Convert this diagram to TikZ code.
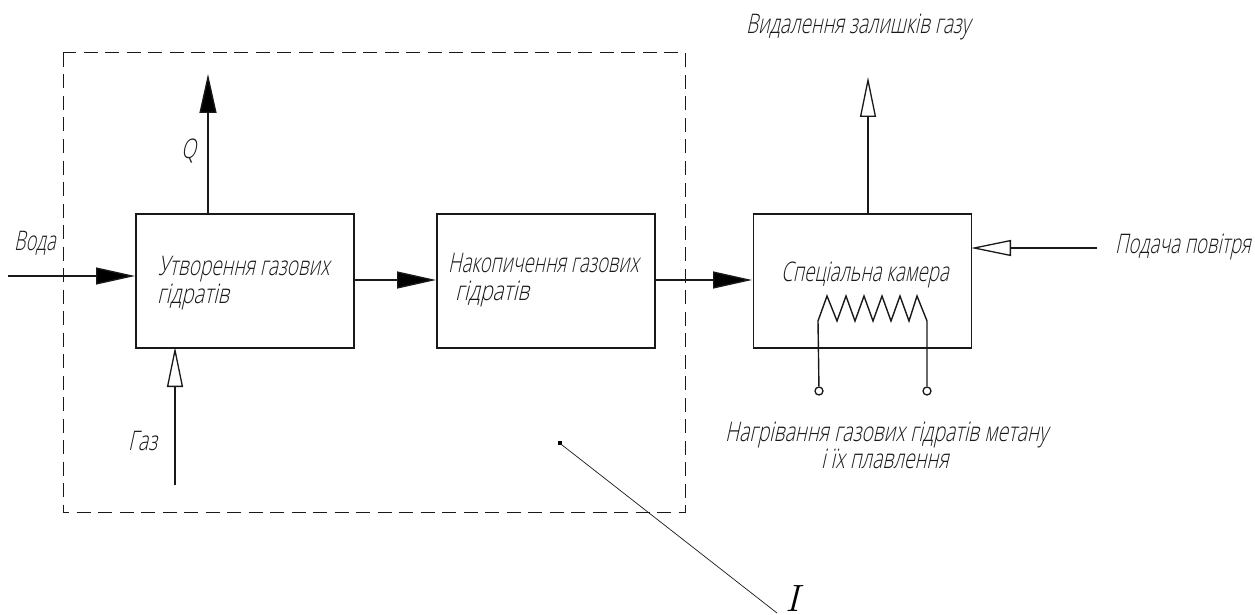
\documentclass[tikz,border=0pt]{standalone}
\usepackage{graphicx}
\usepackage{fontspec}
\newfontfamily\drawfont[FakeStretch=0.72,FakeSlant=0.22]{Open Sans Light}
\usetikzlibrary{arrows.meta}
\definecolor{ink}{RGB}{25,25,25}
\newcommand{\sq}[2]{\scalebox{#1}[1]{#2}}
\tikzset{
  x=1pt,y=-1pt,
  procbox/.style={draw=ink,line width=1.5pt,minimum width=218pt,minimum height=134pt,inner sep=0pt,anchor=north west},
  flow/.style={draw=ink,line width=1.4pt},
  solidflow/.style={flow,-{Triangle[length=39pt,width=17pt,fill=black]}},
  hollowflow/.style={flow,-{Triangle[open,length=40pt,width=16pt,line width=1.3pt]}},
  lab/.style={font=\drawfont\fontsize{27}{30}\selectfont,text=ink,inner sep=0pt,align=left,anchor=base west},
  termpin/.style={circle,draw=ink,line width=1.3pt,minimum size=8pt,inner sep=0pt}
}
\begin{document}
\begin{tikzpicture}
\useasboundingbox (0,0) rectangle (1255,615);
\draw[ink,line width=1pt,dash pattern=on 14pt off 7.5pt] (63,53) rectangle (685,512.5);
\node[procbox] (b1) at (135,213) {};
\node[procbox] (b2) at (436,213) {};
\node[procbox] (b3) at (752.5,213) {};
\coordinate (vs) at (8,276);
\coordinate (ve) at (135,276);
\draw[solidflow] (vs) -- (ve);
\coordinate (a1) at (353,280);
\coordinate (a2) at (436,280);
\draw[solidflow] (a1) -- (a2);
\coordinate (c1) at (654,280);
\coordinate (c2) at (752,280);
\draw[solidflow] (c1) -- (c2);
\coordinate (q1) at (208,213);
\coordinate (q2) at (208,74);
\draw[solidflow] (q1) -- (q2);
\coordinate (g1) at (175,485);
\coordinate (g2) at (175,347);
\draw[hollowflow] (g1) -- (g2);
\coordinate (o1) at (868,213);
\coordinate (o2) at (868,77);
\draw[hollowflow] (o1) -- (o2);
\coordinate (p1) at (1097,248);
\coordinate (p2) at (971,248);
\draw[hollowflow] (p1) -- (p2);
\node[termpin] (t1) at (819,391) {};
\node[termpin] (t2) at (927,391) {};
\draw[ink,line width=1.4pt] (t1) -- (818,321) -- (827,296) -- (837,321) -- (846,296) -- (855,321) -- (864,296) -- (873,321) -- (882,296) -- (891,321) -- (900,296) -- (909,321) -- (917,296) -- (927,321) -- (t2);
\coordinate (d0) at (559.5,443);
\fill[black] (557.5,441) rectangle (561.5,445);
\node[font=\fontsize{38}{38}\selectfont\itshape,text=black,inner sep=0pt,anchor=base] (ilab) at (793,611) {I};
\coordinate (d1) at (777,613);
\draw[ink,line width=0.7pt] (d0) -- (d1);
\node[lab] (l1) at (14,250.5) {\sq{0.93}{Вода}};
\node[lab] (l2) at (181,158) {Q};
\node[lab] (l3) at (128,450) {Газ};
\node[lab] (l4) at (158,275) {\sq{0.98}{Утворення газових}};
\node[lab] (l5) at (157,303) {\sq{1.04}{гідратів}};
\node[lab] (l6) at (448,272) {\sq{0.955}{Накопичення газових}};
\node[lab] (l7) at (455,300) {\sq{1.07}{гідратів}};
\node[lab] (l8) at (781,281.5) {\sq{0.96}{Спеціальна камера}};
\node[lab] (l9) at (746,33.5) {\sq{0.98}{Видалення залишків газу}};
\node[lab] (l10) at (1115,253) {\sq{0.956}{Подача повітря}};
\node[lab] (l11) at (725,441.5) {Нагрівання газових гідратів метану};
\node[lab] (l12) at (821,468) {і їх плавлення};
\end{tikzpicture}
\end{document}
